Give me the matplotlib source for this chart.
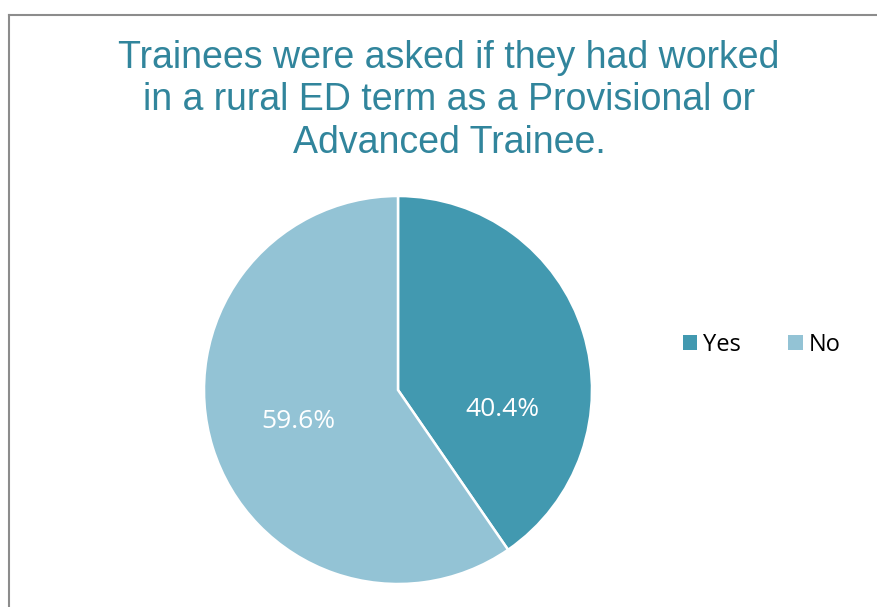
import numpy as np
import matplotlib.pyplot as plt
from matplotlib.lines import Line2D
from matplotlib.patches import Patch

labels = ['Yes', 'No']
shares = [40.4, 59.6]
colors = ['#4299B0', '#93C3D5']
title = 'Trainees were asked if they had worked\nin a rural ED term as a Provisional or\nAdvanced Trainee.'

fig = plt.figure(figsize=(8.77, 6.07), dpi=100)

# chart frame (grey line on top and left edges)
fig.add_artist(Line2D([8.5/877, 8.5/877], [0, 1 - 14.5/607], transform=fig.transFigure,
                      color='#8C8C8C', lw=1.5))
fig.add_artist(Line2D([8.5/877, 1], [1 - 14.5/607, 1 - 14.5/607], transform=fig.transFigure,
                      color='#8C8C8C', lw=1.5))

fig.text(449/877, 1 - 40/607, title, ha='center', va='top', color='#31859C',
         fontsize=27, family='Liberation Sans', linespacing=1.23)

r = 194
ax = fig.add_axes([(398 - r)/877, (607 - 390 - r)/607, 2*r/877, 2*r/607])
wedges, texts, autotexts = ax.pie(shares, colors=colors, startangle=90, counterclock=False,
                                  autopct='%1.1f%%', pctdistance=0.54,
                                  wedgeprops=dict(edgecolor='white', linewidth=1.8),
                                  textprops=dict(color='white', fontsize=19, family='Open Sans'))
ax.set_xlim(-1, 1)
ax.set_ylim(-1, 1)
ax.set_aspect('equal')
# Excel nudges the Yes label down toward the horizontal
ang = np.deg2rad(-10.8)
autotexts[0].set_position((0.55*np.cos(ang), 0.55*np.sin(ang)))

handles = [Patch(facecolor=c, edgecolor='none') for c in colors]
fig.legend(handles, labels, loc='center left', bbox_to_anchor=(662/877, 1 - 345/607),
           ncol=2, frameon=False, prop=dict(family='Open Sans', size=17),
           handlelength=0.6, handleheight=0.6, handletextpad=0.25, columnspacing=2.0)

fig.savefig('out.png', dpi=100)
